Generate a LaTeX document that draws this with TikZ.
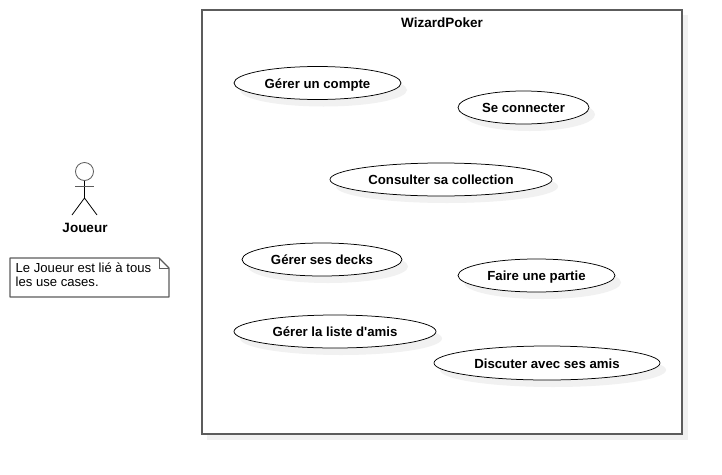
\documentclass[tikz,border=0pt]{standalone}
\usepackage{fontspec}
\newfontfamily\plainsans{Liberation Sans}
\usetikzlibrary{shapes.geometric,calc}
\definecolor{shade1}{gray}{0.945}
\definecolor{edge}{gray}{0.36}
\tikzset{
  x=1pt,y=-1pt,
  usecase/.style={ellipse,draw=black,line width=0.75pt,fill=white,inner sep=0pt,text height=12pt,text depth=1.5pt,font=\plainsans\fontsize{13.2}{15}\selectfont\bfseries,text=black},
  caseshadow/.style={ellipse,fill=shade1,draw=none,inner sep=0pt},
  boxline/.style={draw=edge,line width=1.1pt,line join=round},
  figure/.style={draw=black,line width=0.8pt},
  heading/.style={font=\plainsans\fontsize{13.5}{15}\selectfont\bfseries,text=black,inner sep=0pt},
  notetext/.style={font=\plainsans\fontsize{13.1}{14}\selectfont,align=left,text=black,inner sep=0pt,anchor=north west}
}
\newcommand{\ucase}[6]{% name, cx, cy, w, h, text
  \node[caseshadow,minimum width=#4pt,minimum height=#5pt] (#1s) at (#2+6,#3+7) {};
  \node[usecase,minimum width=#4pt,minimum height=#5pt] (#1) at (#2,#3) {#6};
}
\begin{document}
\begin{tikzpicture}
\useasboundingbox (0,0) rectangle (722,474);
% system boundary
\fill[shade1] (207,15) rectangle (688,440);
\node[draw=edge,line width=1.1pt,fill=white,minimum width=480pt,minimum height=424pt,inner sep=0pt] (sys) at (442,222) {};
\node[heading] (title) at (442,22.5) {WizardPoker};
% use cases
\ucase{compte}{317.5}{83}{167}{33}{Gérer un compte}
\ucase{connect}{523.5}{107.5}{131}{33}{Se connecter}
\ucase{collec}{441}{179.5}{222}{33}{Consulter sa collection}
\ucase{decks}{322}{259.5}{160}{33}{Gérer ses decks}
\ucase{partie}{536.5}{275.5}{157}{33}{Faire une partie}
\ucase{amis}{335}{331.5}{202}{33}{Gérer la liste d'amis}
\ucase{discut}{547}{363}{226}{34}{Discuter avec ses amis}
% actor
\node[circle,draw=edge,line width=0.8pt,fill=white,minimum size=18pt,inner sep=0pt] (head) at (84.5,171.5) {};
\coordinate (hip) at (84.5,198);
\coordinate (armL) at (75,186);
\coordinate (armR) at (94,186);
\coordinate (legL) at (72,215);
\coordinate (legR) at (97,215);
\draw[figure] (head.south) -- (hip);
\draw[draw=edge,line width=0.8pt] (armL) -- (armR);
\draw[figure] (legL) -- (hip) -- (legR);
\node[heading] (joueur) at (85,228) {Joueur};
% note
\coordinate (na) at (10,258);
\coordinate (nb) at (159,258);
\coordinate (nc) at (169,268);
\coordinate (nd) at (169,297);
\coordinate (ne) at (10,297);
\coordinate (nf) at (159,268);
\draw[boxline,fill=white] (na) -- (nb) -- (nc) -- (nd) -- (ne) -- cycle;
\draw[draw=edge,line width=0.8pt] (nb) -- (nf) -- (nc);
\node[notetext] (note) at (15.5,263) {Le Joueur est lié à tous\\les use cases.};
\end{tikzpicture}
\end{document}
